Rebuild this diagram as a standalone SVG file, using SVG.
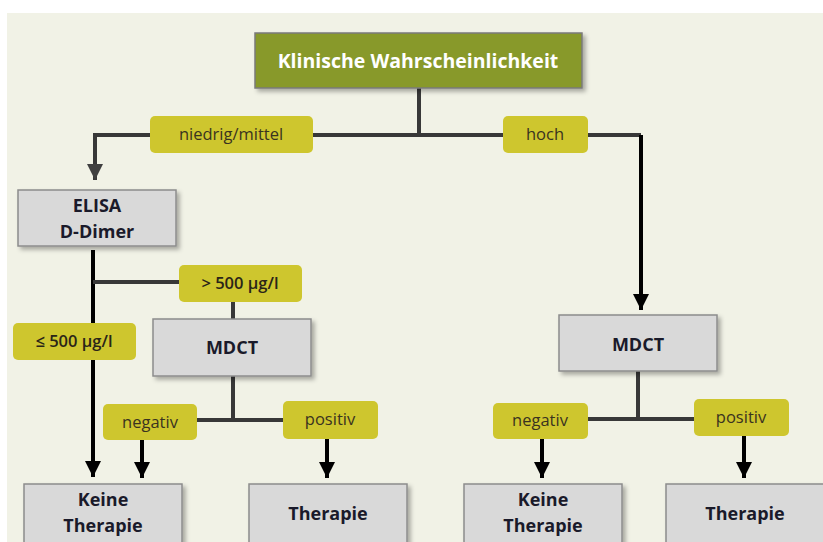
<svg xmlns="http://www.w3.org/2000/svg" width="823" height="542" viewBox="0 0 823 542">
<defs>
<filter id="sh" x="-10%" y="-10%" width="130%" height="140%">
<feDropShadow dx="3" dy="3" stdDeviation="2" flood-color="#000" flood-opacity="0.3"/>
</filter>
<marker id="ah" viewBox="0 0 10 10" refX="10" refY="5" markerWidth="4" markerHeight="4.5" markerUnits="strokeWidth" orient="auto">
<path d="M0,0 L10,5 L0,10 z" fill="#000"/>
</marker>
<marker id="ahg" viewBox="0 0 10 10" refX="10" refY="5" markerWidth="4" markerHeight="4" markerUnits="strokeWidth" orient="auto">
<path d="M0,0 L10,5 L0,10 z" fill="#404040"/>
</marker>
</defs>
<style>
.box{fill:#d9d9d9;stroke:#8c8c8c;stroke-width:1.5}
.top{fill:#88992b;stroke:#7a7a7a;stroke-width:1.5}
.lbl{fill:#cec62e}
.bt{font-family:"Open Sans",sans-serif;font-weight:bold;font-size:18px;fill:#1a1a2a;text-anchor:middle}
.tt{font-family:"Open Sans",sans-serif;font-weight:bold;font-size:19.5px;fill:#ffffff;text-anchor:middle}
.lt{font-family:"Open Sans",sans-serif;font-size:16.5px;fill:#3a3320;text-anchor:middle}
.sb{font-weight:600;fill:#2a2518}
.c{fill:none;stroke:#383838;stroke-width:4}
.k{fill:none;stroke:#000;stroke-width:4}
</style>
<rect x="0" y="0" width="823" height="542" fill="#ffffff"/>
<rect x="7" y="13" width="816" height="529" fill="#f1f2e6"/>

<g id="connectors">
<path class="c" d="M419,88 V135"/>
<path class="c" d="M641,135 H95 V180" marker-end="url(#ahg)"/>
<path class="k" d="M641,135 V310" marker-end="url(#ah)"/>
<path class="k" d="M93,250 V477" stroke-width="5" marker-end="url(#ah)"/>
<path class="c" d="M93,282 H180"/>
<path class="c" d="M233,302 V319"/>
<path class="c" d="M233,376 V420 M197,420 H283"/>
<path class="k" d="M142,440 V478" marker-end="url(#ah)"/>
<path class="k" d="M327,439 V478" marker-end="url(#ah)"/>
<path class="c" d="M638,371 V419 M588,419 H694"/>
<path class="k" d="M542,439 V478" marker-end="url(#ah)"/>
<path class="k" d="M744,436 V478" marker-end="url(#ah)"/>
</g>

<g id="n-top">
<rect class="top" x="255" y="33" width="327" height="55" filter="url(#sh)"/>
<text class="tt" x="418" y="68">Klinische Wahrscheinlichkeit</text>
</g>
<g id="l-niedrig">
<rect class="lbl" x="150" y="116" width="163" height="37" rx="5"/>
<text class="lt" x="231" y="140">niedrig/mittel</text>
</g>
<g id="l-hoch">
<rect class="lbl" x="503" y="116" width="85" height="37" rx="5"/>
<text class="lt" x="545" y="140">hoch</text>
</g>
<g id="n-elisa">
<rect class="box" x="18" y="190" width="158" height="56" filter="url(#sh)"/>
<text class="bt" x="97" y="212">ELISA</text>
<text class="bt" x="97" y="238">D-Dimer</text>
</g>
<g id="l-gt500">
<rect class="lbl" x="179" y="265" width="123" height="37" rx="5"/>
<text class="lt sb" x="240" y="289">&gt; 500 µg/l</text>
</g>
<g id="l-le500">
<rect class="lbl" x="13" y="323" width="123" height="37" rx="5"/>
<text class="lt sb" x="74" y="347">≤ 500 µg/l</text>
</g>
<g id="n-mdct1">
<rect class="box" x="153" y="319" width="158" height="57" filter="url(#sh)"/>
<text class="bt" x="232" y="354">MDCT</text>
</g>
<g id="l-neg1">
<rect class="lbl" x="103" y="404" width="94" height="36" rx="5"/>
<text class="lt" x="150" y="428">negativ</text>
</g>
<g id="l-pos1">
<rect class="lbl" x="283" y="401" width="95" height="38" rx="5"/>
<text class="lt" x="330" y="425">positiv</text>
</g>
<g id="n-keine1">
<rect class="box" x="24" y="484" width="158" height="60" filter="url(#sh)"/>
<text class="bt" x="103" y="506">Keine</text>
<text class="bt" x="103" y="532">Therapie</text>
</g>
<g id="n-ther1">
<rect class="box" x="249" y="484" width="158" height="60" filter="url(#sh)"/>
<text class="bt" x="328" y="520">Therapie</text>
</g>
<g id="n-mdct2">
<rect class="box" x="559" y="315" width="158" height="56" filter="url(#sh)"/>
<text class="bt" x="638" y="351">MDCT</text>
</g>
<g id="l-neg2">
<rect class="lbl" x="493" y="403" width="95" height="36" rx="5"/>
<text class="lt" x="540" y="426">negativ</text>
</g>
<g id="l-pos2">
<rect class="lbl" x="694" y="399" width="95" height="37" rx="5"/>
<text class="lt" x="741" y="423">positiv</text>
</g>
<g id="n-keine2">
<rect class="box" x="464" y="484" width="158" height="60" filter="url(#sh)"/>
<text class="bt" x="543" y="506">Keine</text>
<text class="bt" x="543" y="532">Therapie</text>
</g>
<g id="n-ther2">
<rect class="box" x="666" y="484" width="158" height="60" filter="url(#sh)"/>
<text class="bt" x="745" y="520">Therapie</text>
</g>
</svg>
